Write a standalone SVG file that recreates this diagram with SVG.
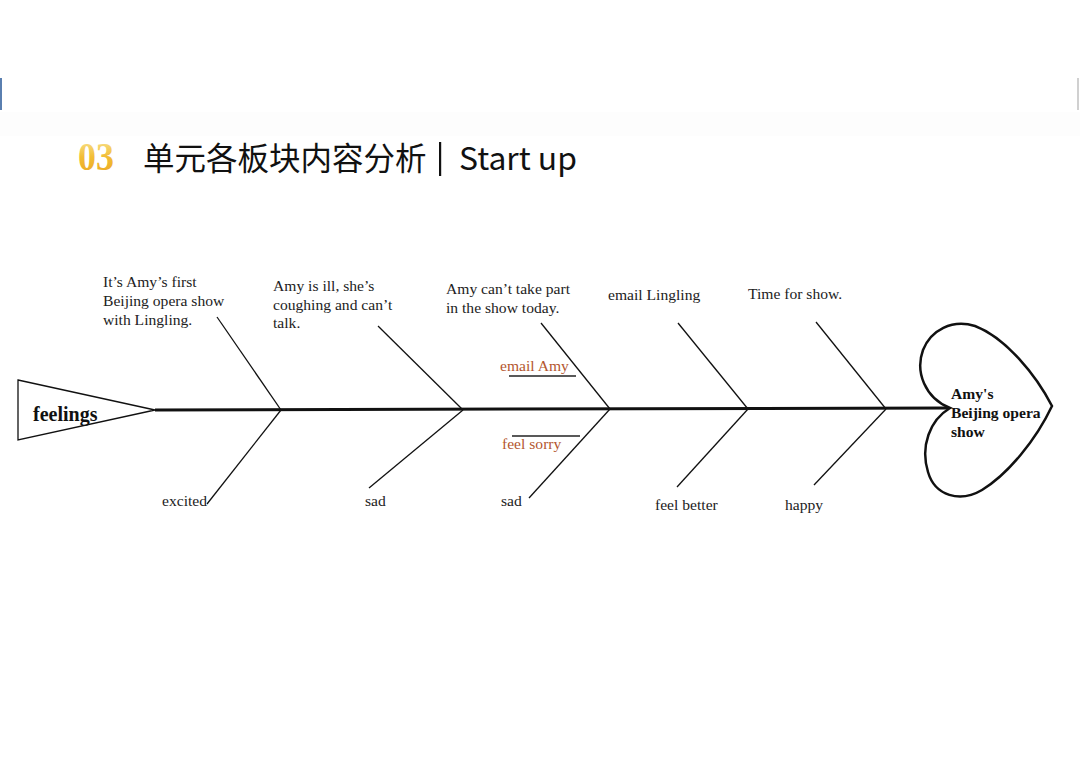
<svg xmlns="http://www.w3.org/2000/svg" width="1080" height="764" viewBox="0 0 1080 764">
<defs>
<linearGradient id="gold" x1="0" y1="0" x2="0" y2="1">
<stop offset="0" stop-color="#f9e9a0"/>
<stop offset="0.5" stop-color="#f2bd35"/>
<stop offset="1" stop-color="#e9a422"/>
</linearGradient>
<style>
.lbl{font-family:"Liberation Serif","Times New Roman",serif;font-size:15.6px;fill:#222}
.red{font-family:"Liberation Serif","Times New Roman",serif;font-size:15.6px;fill:#b4572f}
.bold{font-family:"Liberation Serif","Times New Roman",serif;font-weight:bold;fill:#111}
.bone{stroke:#111;stroke-width:1.3;fill:none}
.ul{stroke:#222;stroke-width:1.3}
.ttl{font-family:"Noto Sans CJK SC","Noto Sans",sans-serif;font-size:31.5px;fill:#111}
</style>
</defs>
<rect x="0" y="0" width="1080" height="764" fill="#ffffff"/>
<rect x="0" y="112" width="1080" height="24" fill="#fdfdfd"/>
<rect x="0" y="78" width="2" height="32" fill="#5a7fb0"/>
<rect x="1077" y="78" width="2" height="32" fill="#d0d0d0"/>
<g id="title">
<text x="78" y="170" font-family="Liberation Serif,serif" font-weight="bold" font-size="39" fill="url(#gold)" transform="translate(78 0) scale(0.92 1) translate(-78 0)">03</text>
<text class="ttl" x="143" y="170">单元各板块内容分析</text>
<rect x="439" y="142" width="2.2" height="34" fill="#111"/>
<text class="ttl" x="459" y="170" textLength="118" lengthAdjust="spacingAndGlyphs">Start up</text>
</g>
<g id="connectors">
<line x1="155" y1="410" x2="950" y2="408" stroke="#111" stroke-width="3"/>
<line class="bone" x1="217" y1="317" x2="281" y2="410"/>
<line class="bone" x1="378" y1="326" x2="463" y2="410"/>
<line class="bone" x1="541" y1="323" x2="610" y2="409"/>
<line class="bone" x1="678" y1="323" x2="748" y2="409"/>
<line class="bone" x1="816" y1="322" x2="886" y2="409"/>
<line class="bone" x1="281" y1="410" x2="207" y2="504"/>
<line class="bone" x1="463" y1="410" x2="369" y2="488"/>
<line class="bone" x1="610" y1="409" x2="529" y2="498"/>
<line class="bone" x1="748" y1="409" x2="677" y2="487"/>
<line class="bone" x1="886" y1="409" x2="814" y2="485"/>
<line class="ul" x1="509" y1="376" x2="576" y2="376"/>
<line class="ul" x1="512" y1="436" x2="580" y2="436"/>
</g>
<g id="head-feelings">
<polygon points="18,380 155,410 18,440" fill="#fff" stroke="#111" stroke-width="1.3"/>
<text class="bold" x="33" y="421" font-size="20">feelings</text>
</g>
<g id="heart">
<path d="M950,408 C925,398 915,372 923,350 C931,330 952,319 975,326 C1006,338 1036,375 1052,406 C1036,440 1008,474 982,490 C960,503 935,496 928,472 C920,446 930,420 950,408 Z" fill="#fff" stroke="#111" stroke-width="2.5"/>
<text class="bold" x="951" y="399" font-size="15.6">Amy's</text>
<text class="bold" x="951" y="418" font-size="15.6">Beijing opera</text>
<text class="bold" x="951" y="437" font-size="15.6">show</text>
</g>
<g id="cause1">
<text class="lbl" x="103" y="287">It’s Amy’s first</text>
<text class="lbl" x="103" y="306">Beijing opera show</text>
<text class="lbl" x="103" y="325">with Lingling.</text>
</g>
<g id="cause2">
<text class="lbl" x="273" y="291">Amy is ill, she’s</text>
<text class="lbl" x="273" y="310">coughing and can’t</text>
<text class="lbl" x="273" y="328">talk.</text>
</g>
<g id="cause3">
<text class="lbl" x="446" y="294">Amy can’t take part</text>
<text class="lbl" x="446" y="313">in the show today.</text>
<text class="red" x="500" y="371">email Amy</text>
<text class="red" x="502" y="449">feel sorry</text>
</g>
<g id="cause4">
<text class="lbl" x="608" y="300">email Lingling</text>
</g>
<g id="cause5">
<text class="lbl" x="748" y="299">Time for show.</text>
</g>
<g id="feel1"><text class="lbl" x="162" y="506">excited</text></g>
<g id="feel2"><text class="lbl" x="365" y="506">sad</text></g>
<g id="feel3"><text class="lbl" x="501" y="506">sad</text></g>
<g id="feel4"><text class="lbl" x="655" y="510">feel better</text></g>
<g id="feel5"><text class="lbl" x="785" y="510">happy</text></g>
</svg>
